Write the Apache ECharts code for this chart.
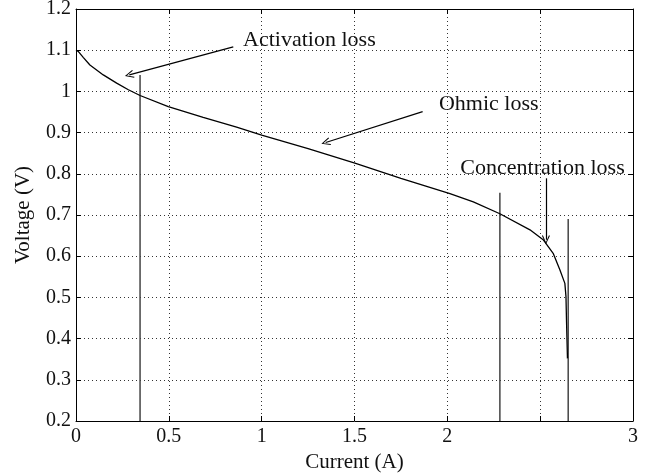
<!DOCTYPE html>
<html>
<head>
<meta charset="utf-8">
<script src="https://cdn.jsdelivr.net/npm/echarts@6/dist/echarts.min.js"></script>
<style>
    html, body { margin: 0; padding: 0; background: #fff; }
    #main { width: 654px; height: 474px; }
</style>
</head>
<body>
<div id="main"></div>
<script>
// polarization curve
const current = [0, 0.012, 0.04, 0.075, 0.147, 0.219, 0.282, 0.345, 0.497, 0.685, 0.865, 1.0, 1.25, 1.502, 1.75, 2.014, 2.14, 2.283, 2.445, 2.516, 2.57, 2.606, 2.633, 2.639, 2.642, 2.647];
const voltage = [1.1, 1.097, 1.082, 1.064, 1.04, 1.02, 1.004, 0.99, 0.963, 0.937, 0.913, 0.894, 0.861, 0.826, 0.789, 0.752, 0.732, 0.703, 0.664, 0.640, 0.607, 0.567, 0.534, 0.502, 0.441, 0.352];

// region borders (vertical lines)
const borderX = [0.345, 2.283, 2.651];
const borderTop = [1.04, 0.754, 0.690];

// annotations
const noteText = ["Activation loss", "Ohmic loss", "Concentration loss"];
const noteTextPos = [[0.9, 1.125], [1.955, 0.968], [2.07, 0.813]];
const arrowFrom = [[0.847, 1.108], [1.867, 0.951], [2.531, 0.789]];
const arrowTo = [[0.287, 1.040], [1.345, 0.876], [2.531, 0.640]];

const hiddenXLabel = 2.5;

const FONT = "Liberation Serif";
const chevron = 'path://M5,0 L10,10 L8.8,10.6 L5,2.4 L1.2,10.6 L0,10 Z';

var chart = echarts.init(document.getElementById('main'));

var curveData = [];
for (var i = 0; i < current.length; i++) {
    curveData.push([current[i], voltage[i]]);
}

var series = [];
series.push({
    type: 'line',
    data: curveData,
    showSymbol: false,
    lineStyle: { color: '#000', width: 1.3 },
    z: 5,
    markLine: {
        silent: true,
        symbol: ['none', chevron],
        symbolSize: [8, 9],
        lineStyle: { color: '#000', width: 1.2, type: 'solid' },
        label: { show: false },
        data: arrowFrom.map(function (p, k) {
            return [{ coord: p }, { coord: arrowTo[k] }];
        })
    },
    markPoint: {
        silent: true,
        symbol: 'circle',
        symbolSize: 0,
        label: {
            show: true,
            position: 'right',
            distance: 0,
            color: '#111',
            fontFamily: FONT,
            fontSize: 22,
            formatter: function (p) { return p.name; }
        },
        data: noteText.map(function (t, k) {
            return { name: t, coord: noteTextPos[k] };
        })
    }
});
for (var j = 0; j < borderX.length; j++) {
    series.push({
        type: 'line',
        data: [[borderX[j], 0.2], [borderX[j], borderTop[j]]],
        showSymbol: false,
        lineStyle: { color: '#444', width: 1.5 },
        z: 4
    });
}

var option = {
    animation: false,
    backgroundColor: '#fff',
    grid: {
        left: 76, right: 21, top: 9, bottom: 53,
        outerBoundsMode: 'none',
        show: false
    },
    xAxis: [{
        type: 'value',
        min: 0, max: 3, interval: 0.5,
        name: 'Current (A)',
        nameLocation: 'middle',
        nameGap: 30,
        nameTextStyle: { color: '#111', fontFamily: FONT, fontSize: 21 },
        axisLine: { show: true, onZero: false, lineStyle: { color: '#000', width: 1 } },
        axisTick: { show: true, inside: true, length: 5, lineStyle: { color: '#000' } },
        axisLabel: {
            color: '#111', fontFamily: FONT, fontSize: 20, margin: 6,
            formatter: function (v) { return v === hiddenXLabel ? '' : String(v); }
        },
        splitLine: { show: true, lineStyle: { color: '#333', type: [1, 3], width: 1 } }
    }, {
        type: 'value',
        position: 'top',
        min: 0, max: 3, interval: 0.5,
        axisLine: { show: true, onZero: false, lineStyle: { color: '#000', width: 1 } },
        axisTick: { show: true, inside: true, length: 5, lineStyle: { color: '#000' } },
        axisLabel: { show: false },
        splitLine: { show: false }
    }],
    yAxis: [{
        type: 'value',
        min: 0.2, max: 1.2, interval: 0.1,
        name: 'Voltage (V)',
        nameLocation: 'middle',
        nameGap: 42,
        nameTextStyle: { color: '#111', fontFamily: FONT, fontSize: 21 },
        axisLine: { show: true, onZero: false, lineStyle: { color: '#000', width: 1 } },
        axisTick: { show: true, inside: true, length: 5, lineStyle: { color: '#000' } },
        axisLabel: {
            color: '#111', fontFamily: FONT, fontSize: 20, margin: 5,
            formatter: function (v) { return String(Math.round(v * 10) / 10); }
        },
        splitLine: { show: true, lineStyle: { color: '#333', type: [1, 3], width: 1 } }
    }, {
        type: 'value',
        position: 'right',
        min: 0.2, max: 1.2, interval: 0.1,
        axisLine: { show: true, onZero: false, lineStyle: { color: '#000', width: 1 } },
        axisTick: { show: true, inside: true, length: 5, lineStyle: { color: '#000' } },
        axisLabel: { show: false },
        splitLine: { show: false }
    }],
    series: series
};

chart.setOption(option);
</script>
</body>
</html>
